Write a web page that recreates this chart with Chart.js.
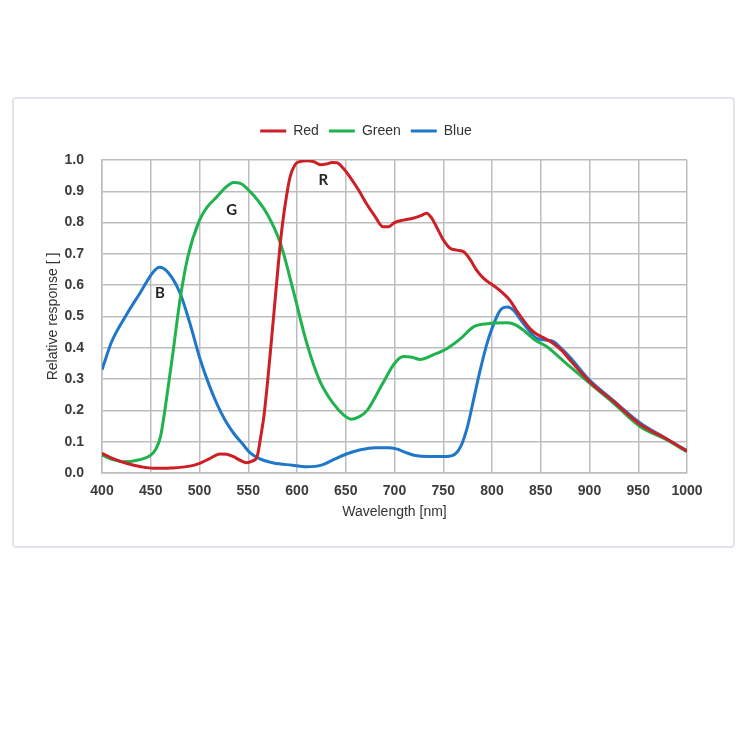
<!DOCTYPE html>
<html>
<head>
<meta charset="utf-8">
<style>
  body { margin: 0; background: #fff; }
  .frame {
    position: absolute; left: 12px; top: 97px; width: 719px; height: 447px;
    border: 2px solid #e2e5eb; border-radius: 4px;
  }
  #chart { position: absolute; left: 0; top: 0; }
</style>
</head>
<body>
<div class="frame"></div>
<canvas id="chart" width="750" height="750"></canvas>

<script src="https://cdn.jsdelivr.net/npm/chart.js"></script>
<script>
  // wavelength (nm) / relative response
  var redNm = [400, 412, 425, 440, 453, 470, 490, 500, 510, 521, 528, 535, 542, 548, 554, 559, 563, 566, 571, 576, 584, 589, 593, 598, 603, 610, 617, 624, 630, 636, 641, 647, 654, 663, 671, 680, 688, 694, 700, 709, 719, 727, 733, 738, 743, 750, 757, 764, 771, 778, 784, 792, 801, 810, 818, 825, 832, 840, 846, 854, 863, 872, 880, 900, 924, 952, 976, 1000];
  var redVal = [0.063, 0.045, 0.031, 0.02, 0.015, 0.016, 0.022, 0.031, 0.045, 0.061, 0.06, 0.052, 0.04, 0.033, 0.038, 0.052, 0.12, 0.18, 0.33, 0.5, 0.766, 0.88, 0.947, 0.985, 0.995, 0.998, 0.995, 0.985, 0.987, 0.992, 0.991, 0.975, 0.947, 0.905, 0.862, 0.82, 0.787, 0.787, 0.8, 0.808, 0.814, 0.822, 0.83, 0.815, 0.787, 0.745, 0.718, 0.712, 0.707, 0.68, 0.649, 0.62, 0.6, 0.578, 0.553, 0.52, 0.489, 0.458, 0.443, 0.43, 0.414, 0.39, 0.361, 0.292, 0.23, 0.155, 0.114, 0.07];

  var greenNm = [400, 412, 422, 435, 449, 455, 460, 466, 473, 480, 488, 500, 508, 518, 526, 535, 542, 552, 560, 569, 583, 596, 610, 623, 637, 648, 656, 664, 672, 688, 700, 709, 718, 726, 740, 754, 768, 781, 795, 815, 822, 832, 844, 856, 876, 900, 924, 952, 976, 1000];
  var greenVal = [0.057, 0.042, 0.036, 0.04, 0.055, 0.075, 0.116, 0.233, 0.39, 0.553, 0.69, 0.808, 0.85, 0.883, 0.91, 0.928, 0.925, 0.899, 0.87, 0.83, 0.734, 0.585, 0.415, 0.297, 0.223, 0.185, 0.172, 0.18, 0.2, 0.287, 0.35, 0.372, 0.37, 0.363, 0.378, 0.398, 0.43, 0.467, 0.477, 0.48, 0.476, 0.457, 0.425, 0.404, 0.35, 0.287, 0.225, 0.148, 0.111, 0.068];

  var blueNm = [400, 410, 424, 440, 452, 459, 468, 480, 490, 500, 510, 518, 526, 535, 545, 552, 562, 576, 595, 610, 625, 637, 650, 665, 680, 693, 702, 712, 720, 735, 753, 762, 768, 775, 781, 788, 795, 805, 810, 816, 822, 832, 846, 855, 863, 872, 880, 900, 924, 952, 976, 1000];
  var blueVal = [0.33, 0.42, 0.5, 0.58, 0.64, 0.657, 0.64, 0.575, 0.48, 0.37, 0.28, 0.22, 0.17, 0.127, 0.09, 0.064, 0.045, 0.032, 0.025, 0.02, 0.025, 0.042, 0.06, 0.074, 0.081, 0.081, 0.077, 0.065, 0.057, 0.053, 0.053, 0.06, 0.085, 0.15, 0.233, 0.33, 0.415, 0.5, 0.525, 0.53, 0.52, 0.478, 0.43, 0.425, 0.42, 0.395, 0.37, 0.297, 0.233, 0.16, 0.115, 0.071];

  // curve letters inside the plot
  var letterText = ["B", "G", "R"];
  var letterNm = [459.5, 533, 627];
  var letterVal = [0.574, 0.84, 0.936];

  function pairs(xs, ys) {
    return xs.map(function (x, i) {
      return { x: x, y: ys[i] };
    });
  }

  // leave room between legend and plot
  var legendGap = {
    id: "legendGap",
    beforeLayout: function (chart) {
      var lg = chart.legend;
      if (lg && !lg._gapPatched) {
        var fit = lg.fit;
        lg.fit = function () {
          fit.call(this);
          this.height += 12;
        };
        lg._gapPatched = true;
      }
    },
  };

  var curveLetters = {
    id: "curveLetters",
    afterDatasetsDraw: function (chart) {
      var ctx = chart.ctx;
      var sx = chart.scales.x;
      var sy = chart.scales.y;
      ctx.save();
      ctx.font = "bold 15px Lato, 'Open Sans', sans-serif";
      ctx.fillStyle = "#222";
      ctx.textAlign = "center";
      ctx.textBaseline = "middle";
      for (var i = 0; i < letterText.length; i++) {
        ctx.fillText(letterText[i], sx.getPixelForValue(letterNm[i]), sy.getPixelForValue(letterVal[i]));
      }
      ctx.restore();
    },
  };

  Chart.defaults.font.family = "'Liberation Sans', Arial, sans-serif";
  Chart.defaults.font.size = 14;
  Chart.defaults.color = "#3a3a3a";

  var lineStyle = { borderWidth: 3, pointRadius: 0, cubicInterpolationMode: "monotone", fill: false };
  var gridColor = "#bdbdbd";

  new Chart(document.getElementById("chart").getContext("2d"), {
    type: "line",
    data: {
      datasets: [
        Object.assign({ label: "Red", data: pairs(redNm, redVal), borderColor: "#cc1f26", backgroundColor: "#cc1f26" }, lineStyle),
        Object.assign({ label: "Green", data: pairs(greenNm, greenVal), borderColor: "#20b24f", backgroundColor: "#20b24f" }, lineStyle),
        Object.assign({ label: "Blue", data: pairs(blueNm, blueVal), borderColor: "#1f77c9", backgroundColor: "#1f77c9" }, lineStyle),
      ],
    },
    options: {
      responsive: false,
      animation: false,
      layout: { padding: { top: 114, left: 45, right: 63, bottom: 225.6 } },
      plugins: {
        legend: {
          position: "top",
          labels: { boxWidth: 26, boxHeight: 0, padding: 10, color: "#333" },
        },
        tooltip: { enabled: false },
      },
      scales: {
        x: {
          type: "linear",
          min: 400,
          max: 1000,
          afterFit: function (scale) {
            scale.height = 51.4;
          },
          ticks: {
            stepSize: 50,
            padding: 10,
            color: "#3b3b3b",
            font: { weight: "bold" },
            callback: function (v) {
              return String(v);
            },
          },
          grid: { color: gridColor, lineWidth: 1.5, drawTicks: false },
          border: { color: gridColor, width: 1.5 },
          title: { display: true, text: "Wavelength [nm]", padding: { top: 4, bottom: 4 }, color: "#333" },
        },
        y: {
          min: 0,
          max: 1,
          afterFit: function (scale) {
            scale.width = 57;
          },
          ticks: {
            stepSize: 0.1,
            padding: 18,
            color: "#3b3b3b",
            font: { weight: "bold" },
            callback: function (v) {
              return v.toFixed(1);
            },
          },
          grid: { color: gridColor, lineWidth: 1.5, drawTicks: false },
          border: { color: gridColor, width: 1.5 },
          title: { display: true, text: "Relative response [ ]", padding: { top: 0, bottom: 4 }, color: "#333" },
        },
      },
    },
    plugins: [legendGap, curveLetters],
  });
</script>
</body>
</html>
